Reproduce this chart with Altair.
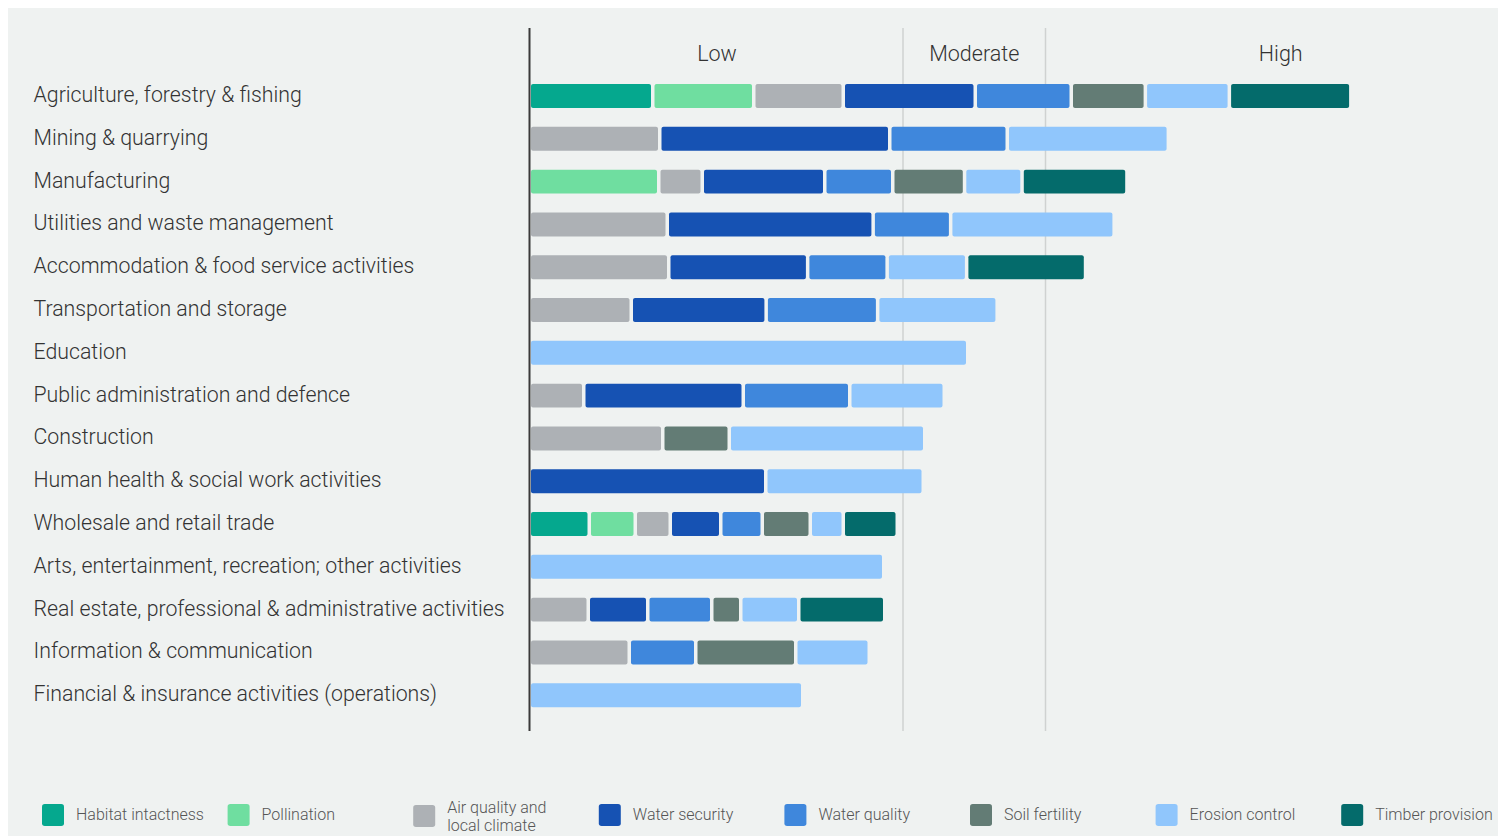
import altair as alt
import pandas as pd

sectors = [
    "Agriculture, forestry & fishing",
    "Mining & quarrying",
    "Manufacturing",
    "Utilities and waste management",
    "Accommodation & food service activities",
    "Transportation and storage",
    "Education",
    "Public administration and defence",
    "Construction",
    "Human health & social work activities",
    "Wholesale and retail trade",
    "Arts, entertainment, recreation; other activities",
    "Real estate, professional & administrative activities",
    "Information & communication",
    "Financial & insurance activities (operations)",
]

services = [
    "Habitat intactness", "Pollination", "Air quality and local climate",
    "Water security", "Water quality", "Soil fertility", "Erosion control",
    "Timber provision",
]
colors = ["#05a88e", "#6fdea0", "#adb1b5", "#1652b3", "#3f87dc",
          "#637c75", "#90c6fc", "#046b6b"]

# segment lengths per service, one value per sector (0 = not material)
habitat     = [120, 0, 0, 0, 0, 0, 0, 0, 0, 0, 56.5, 0, 0, 0, 0]
pollination = [97.5, 0, 126, 0, 0, 0, 0, 0, 0, 0, 42.5, 0, 0, 0, 0]
air_quality = [86, 127, 40, 134.5, 136, 98.5, 0, 51, 130, 0, 31.5, 0, 55.5, 96.5, 0]
water_sec   = [128.5, 226.5, 119, 202.4, 135.4, 131.4, 0, 156, 0, 233, 47, 0, 56, 0, 0]
water_qual  = [92.5, 114, 64.5, 74, 76, 108, 0, 103, 0, 0, 38, 0, 60.5, 63, 0]
soil        = [70.6, 0, 68.3, 0, 0, 0, 0, 0, 63, 0, 44.5, 0, 25.5, 96.5, 0]
erosion     = [80.5, 157.6, 54, 160, 76, 116, 435, 91, 192, 154, 29.5, 351, 54.5, 70, 270]
timber      = [118, 0, 101.4, 0, 115.4, 0, 0, 0, 0, 0, 50.5, 0, 82.5, 0, 0]

levels = ["Low", "Moderate", "High"]
level_lower = [0, 372, 514.5]
level_upper = [372, 514.5, 985]

series = [habitat, pollination, air_quality, water_sec, water_qual, soil, erosion, timber]
rows = []
for k, (svc, vals) in enumerate(zip(services, series)):
    for sec, v in zip(sectors, vals):
        if v > 0:
            rows.append({"sector": sec, "service": svc, "rank": k, "seg": v})
bars_df = pd.DataFrame(rows)
levels_df = pd.DataFrame({"level": levels, "lo": level_lower, "hi": level_upper})

GAP = 3.5
W, H = 960, 703
BG = "#eff2f1"
FONT = "Roboto"


def rounded_square(dy=0.0):
    def y(v):
        return f"{v + dy:.3f}"
    return (f"M -0.75,{y(-1)} L 0.75,{y(-1)} Q 1,{y(-1)} 1,{y(-0.75)} L 1,{y(0.75)} "
            f"Q 1,{y(1)} 0.75,{y(1)} L -0.75,{y(1)} Q -1,{y(1)} -1,{y(0.75)} "
            f"L -1,{y(-0.75)} Q -1,{y(-1)} -0.75,{y(-1)} Z")


SYMBOL_EXPR = (f"datum.value == 'Air quality and local climate' ? "
               f"'{rounded_square(0.773)}' : '{rounded_square(0.0)}'")

xscale = alt.Scale(domain=[0, W], nice=False, zero=False)

bars = alt.Chart(bars_df).transform_calculate(
    pitch=f"datum.seg + {GAP}"
).transform_window(
    cum="sum(pitch)", groupby=["sector"], sort=[alt.SortField("rank")]
).transform_calculate(
    x0="datum.cum - datum.pitch", x1="datum.cum - datum.pitch + datum.seg"
).mark_bar(cornerRadius=2).encode(
    x=alt.X("x0:Q", scale=xscale, axis=None),
    x2="x1:Q",
    y=alt.Y("sector:N", sort=sectors, title=None,
            scale=alt.Scale(paddingInner=0.44, paddingOuter=0.9327, align=0.702),
            axis=alt.Axis(domain=False, ticks=False, labelAlign="left",
                          labelPadding=498, labelFontSize=21.3, labelColor="#333333",
                          labelFont=FONT, labelFontWeight=300, labelLimit=600, grid=False)),
    color=alt.Color("service:N", scale=alt.Scale(domain=services, range=colors),
                    legend=alt.Legend(
                        orient="none", legendX=-489, legendY=768.5,
                        direction="horizontal", columns=8, gridAlign="all",
                        columnPadding=23.6, padding=0,
                        symbolType=alt.ExprRef(expr=SYMBOL_EXPR),
                        symbolSize=484, symbolStrokeWidth=0, symbolOpacity=1,
                        labelFontSize=16, labelColor="#555555", labelFont=FONT,
                        labelFontWeight=300, labelOffset=12, labelLimit=300,
                        labelExpr="datum.label == 'Air quality and local climate' ? ['Air quality and', 'local climate'] : datum.label",
                    ), title=""),
)

grid = alt.Chart(levels_df).transform_filter("datum.lo > 0").mark_rule(
    color="#cfd2d1", strokeWidth=1.5
).encode(
    x=alt.X("lo:Q", scale=xscale, axis=None),
    y=alt.value(0), y2=alt.value(H),
)

axis_line = alt.Chart(levels_df).transform_filter("datum.lo == 0").mark_rule(
    color="#3a3a3a", strokeWidth=2, xOffset=-1.5
).encode(x=alt.X("lo:Q", scale=xscale, axis=None), y=alt.value(0), y2=alt.value(H))

headers = alt.Chart(levels_df).transform_calculate(
    mid="(datum.lo + datum.hi) / 2"
).mark_text(fontSize=21.5, font=FONT, fontWeight=300, color="#333333", baseline="middle").encode(
    x=alt.X("mid:Q", scale=xscale, axis=None),
    y=alt.value(27),
    text="level:N",
)

chart = alt.layer(grid, axis_line, bars, headers).properties(
    width=W, height=H,
    background=BG,
    padding={"left": 523, "top": 20, "right": 7, "bottom": 105},
    autosize=alt.AutoSizeParams(type="none"),
).configure_view(strokeWidth=0)

chart.save("out.html", embed_options={"renderer": "svg", "actions": False})
